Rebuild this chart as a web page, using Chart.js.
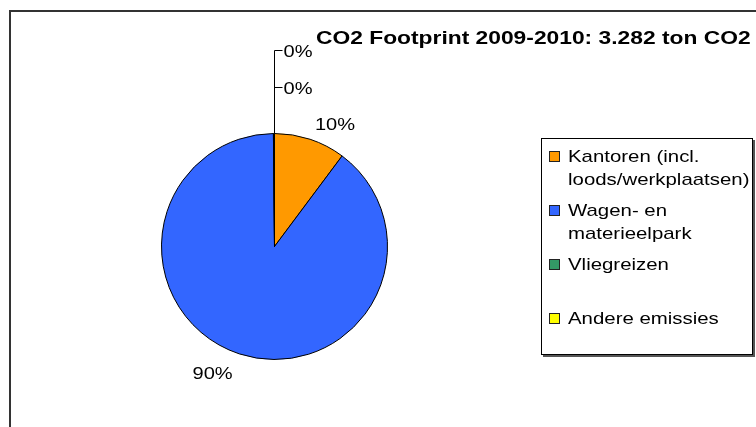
<!DOCTYPE html>
<html>
<head>
    <title>CO2 Footprint 2009-2010</title>
    <script src="https://cdn.jsdelivr.net/npm/chart.js"></script>
    <style>
        body {
            margin: 0;
            background: #fff;
        }
        .chart-container {
            width: 756px;
            height: 427px;
            position: relative;
        }
    </style>
</head>
<body>
    <div class="chart-container">
        <canvas id="co2Chart"></canvas>
    </div>

    <script>
        // Data (ton CO2)
        const categories = [
            ['Kantoren (incl.', 'loods/werkplaatsen)'],
            ['Wagen- en', 'materieelpark'],
            ['Vliegreizen'],
            ['Andere emissies']
        ];
        const tons = [335, 2942, 3, 2];
        const colors = ['#FF9900', '#3366FF', '#339966', '#FFFF00'];
        const period = '2009-2010';

        const total = tons.reduce((a, b) => a + b, 0);
        // Dutch thousands separator
        const totalText = String(total).replace(/\B(?=(\d{3})+(?!\d))/g, '.');
        const titleText = 'CO2 Footprint ' + period + ': ' + totalText + ' ton CO2';
        const FONT = "'Liberation Sans', Arial, sans-serif";

        // text is a bit wider than normal in the original, stretch it horizontally
        function drawText(ctx, text, x, y, align, sx) {
            ctx.save();
            ctx.translate(x, y);
            ctx.scale(sx, 1);
            ctx.textAlign = align;
            ctx.fillText(text, 0, 0);
            ctx.restore();
        }

        const decorations = {
            id: 'decorations',
            afterDraw(chart) {
                const ctx = chart.ctx;
                const arcs = chart.getDatasetMeta(0).data;

                // outer frame
                ctx.save();
                ctx.strokeStyle = '#333';
                ctx.lineWidth = 2;
                ctx.strokeRect(10, 11, 780, 440);

                // title
                ctx.fillStyle = '#000';
                ctx.textBaseline = 'alphabetic';
                ctx.font = 'bold 19px ' + FONT;
                drawText(ctx, titleText, 316, 44, 'left', 1.2);

                // percentage labels
                ctx.font = '17px ' + FONT;
                ctx.strokeStyle = '#000';
                ctx.lineWidth = 1;
                const leaderY = [87, 50];
                let tiny = 0;
                arcs.forEach((arc, i) => {
                    const pct = Math.round(tons[i] / total * 100);
                    const p = arc.getProps(['x', 'y', 'startAngle', 'endAngle', 'outerRadius'], true);
                    const mid = (p.startAngle + p.endAngle) / 2;
                    const dx = Math.cos(mid), dy = Math.sin(mid);
                    if (tons[i] / total < 0.01) {
                        const lx = Math.round(p.x + dx * p.outerRadius) + 0.5;
                        const top = p.y + dy * p.outerRadius;
                        const ly = leaderY[tiny++];
                        ctx.beginPath();
                        ctx.moveTo(lx, top);
                        ctx.lineTo(lx, ly + 0.5);
                        ctx.lineTo(lx + 8, ly + 0.5);
                        ctx.stroke();
                        drawText(ctx, pct + '%', lx + 9, ly + 7, 'left', 1.18);
                        return;
                    }
                    const r = p.outerRadius + 12;
                    const ax = p.x + dx * r, ay = p.y + dy * r;
                    const ty = dy < 0 ? ay + 2 : ay + 14;
                    if (dx > 0) drawText(ctx, pct + '%', ax + 1, ty, 'left', 1.18);
                    else drawText(ctx, pct + '%', ax - 3, ty, 'right', 1.18);
                });

                // legend box with shadow
                const bx = 541, by = 138, bw = 212, bh = 217;
                ctx.fillStyle = '#555';
                ctx.fillRect(bx + 2, by + 2, bw, bh);
                ctx.fillStyle = '#fff';
                ctx.fillRect(bx, by, bw, bh);
                ctx.strokeStyle = '#000';
                ctx.strokeRect(bx + 0.5, by + 0.5, bw - 1, bh - 1);

                ctx.font = '17px ' + FONT;
                categories.forEach((lines, i) => {
                    const cy = 156 + i * 54;
                    ctx.fillStyle = colors[i];
                    ctx.fillRect(549, cy - 5, 11, 11);
                    ctx.strokeStyle = '#222';
                    ctx.strokeRect(549.5, cy - 4.5, 10, 10);
                    ctx.fillStyle = '#000';
                    lines.forEach((t, j) => {
                        drawText(ctx, t, 568, cy + 6 + j * 23, 'left', 1.2);
                    });
                });
                ctx.restore();
            }
        };

        const ctx = document.getElementById('co2Chart').getContext('2d');
        const chart = new Chart(ctx, {
            type: 'pie',
            data: {
                labels: categories,
                datasets: [{
                    data: tons,
                    backgroundColor: colors,
                    borderColor: '#000',
                    borderWidth: 1
                }]
            },
            options: {
                responsive: true,
                maintainAspectRatio: false,
                animation: false,
                layout: {
                    padding: { left: 161, top: 133, right: 368, bottom: 67 }
                },
                plugins: {
                    legend: { display: false },
                    title: { display: false },
                    tooltip: { enabled: false }
                }
            },
            plugins: [decorations]
        });
    </script>
</body>
</html>
